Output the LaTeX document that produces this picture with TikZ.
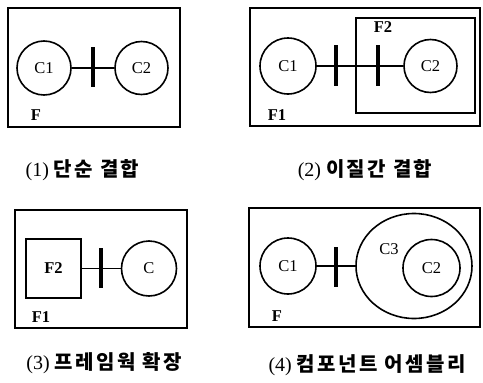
\documentclass[tikz,border=0pt]{standalone}
\usepackage{fontspec}
\setmainfont{Liberation Serif}
\newfontfamily\cjk[LetterSpace=12]{Noto Sans CJK KR}
\usetikzlibrary{positioning}
\usetikzlibrary{shapes.geometric}

\tikzset{
  frame/.style={draw, line width=1.5pt},
  comp/.style={circle, draw, line width=1.6pt, inner sep=0pt, font=\fontsize{16.5}{16.5}\selectfont},
  flabel/.style={inner sep=0pt, font=\bfseries\fontsize{16.5}{16.5}\selectfont},
  clabel/.style={inner sep=0pt, font=\fontsize{16.5}{16.5}\selectfont},
  coupler/.style={fill=black, minimum width=3.6pt, minimum height=40pt, inner sep=0pt},
  link/.style={line width=1.5pt},
  caption/.style={inner sep=0pt, font=\fontsize{20}{20}\selectfont}
}

\begin{document}
\begin{tikzpicture}[x=1pt, y=-1pt]
    \useasboundingbox (0,0) rectangle (483,383);

    % (1) simple coupling
    \draw [frame] (8,8) rectangle (180,127);
    \node [flabel] (fa) at (36,115) {F};
    \node [comp, minimum size=54pt] (ca1) at (44,68) {C1};
    \node [comp, minimum size=53pt] (ca2) at (141.5,68) {C2};
    \node [coupler] (ba) at (93,67) {};
    \draw [link] (ca1) -- (ca2);
    \node [caption] (capa) at (82.5,170) {(1)~{\cjk\bfseries 단순 결합}};

    % (2) heterogeneous coupling
    \draw [frame] (250,8) rectangle (480,126);
    \draw [frame] (356,18) rectangle (475,113);
    \node [flabel] (fb1) at (277,115) {F1};
    \node [flabel] (fb2) at (383,27) {F2};
    \node [comp, minimum size=56pt] (cb1) at (288,66) {C1};
    \node [comp, minimum size=53pt] (cb2) at (430.5,66) {C2};
    \node [coupler, minimum height=41pt] (bb1) at (336,65.5) {};
    \node [coupler, minimum height=41pt] (bb2) at (378,65.5) {};
    \draw [link] (cb1) -- (cb2);
    \node [caption] (capb) at (365,170) {(2)~{\cjk\bfseries 이질간 결합}};

    % (3) framework extension
    \draw [frame] (15,210) rectangle (187,328);
    \node [flabel] (fc1) at (41,317) {F1};
    \node [frame, flabel, minimum width=55pt, minimum height=59pt] (fc2) at (53.5,268.5) {F2};
    \node [comp, minimum size=55pt] (cc) at (149,268.5) {C};
    \node [coupler] (bc) at (101,268) {};
    \draw [link] (fc2) -- (cc);
    \node [caption] (capc) at (104,363) {(3)~{\cjk\bfseries 프레임웍 확장}};

    % (4) component assembly
    \draw [frame] (249,208) rectangle (480,327);
    \node [flabel] (fd) at (277,316) {F};
    \node [comp, minimum size=56pt] (cd1) at (288,266) {C1};
    \node [ellipse, draw, line width=1.6pt, minimum width=116pt, minimum height=105pt] (cd3) at (414,266) {};
    \node [clabel] (ld3) at (389,249) {C3};
    \node [comp, minimum size=57pt] (cd2) at (431.5,268) {C2};
    \node [coupler] (bd) at (336,267) {};
    \draw [link] (cd1) -- (cd3);
    \node [caption] (capd) at (367,365) {(4)~{\cjk\bfseries 컴포넌트 어셈블리}};
\end{tikzpicture}
\end{document}
